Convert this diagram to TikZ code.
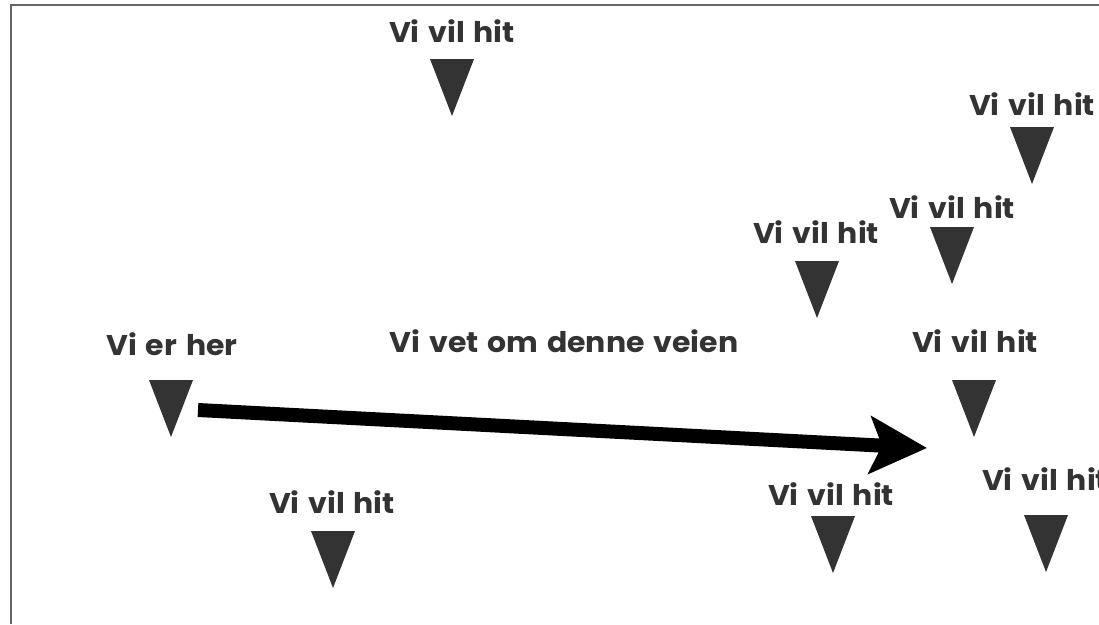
\documentclass[tikz,border=0pt]{standalone}
\usepackage{fontspec}
\newfontfamily\signfont{Poppins}[UprightFont=* Bold, FakeStretch=1.05, WordSpace=1.4]
\usetikzlibrary{arrows.meta,calc}

\definecolor{ink}{HTML}{333333}
\definecolor{framegray}{HTML}{666666}

\begin{document}
\begin{tikzpicture}[x=1pt,y=-1pt,>={Stealth[length=57pt,width=57pt,inset=12pt]},
    sign/.style={font=\signfont\fontsize{28.5}{30}\selectfont, text=ink, anchor=base, inner sep=0pt}]
\useasboundingbox (0,0) rectangle (1099,624);
\draw[framegray, line width=2pt] (11,624) |- (1099,5);

% signs: name / label x / baseline / apex x / apex y / text
\foreach \n/\lx/\ly/\ax/\ay/\t in {a/452/42/452/116/Vi vil hit,
    b/1032/115/1032/184/Vi vil hit, c/952/218/952/284/Vi vil hit,
    d/816/243/817/318/Vi vil hit, here/172/355/171/437/Vi er her,
    goal/975/352/974/437/Vi vil hit, e/332/513/333/588/Vi vil hit,
    f/831/505/833/573/Vi vil hit, g/1045/490/1046/572/Vi vil hit}
{
    \node[sign] (\n-lbl) at (\lx,\ly) {\t};
    \coordinate (\n) at (\ax,\ay);
    \fill[ink] (\n) -- ++(-22,-57) -- ++(44,0) -- cycle;
}

\node[sign] (road) at (564,352) {Vi vet om denne veien};

\draw[->, line width=14pt] ($(here)+(27,-27)$) -- ($(goal)+(-47,11)$);

\end{tikzpicture}
\end{document}
